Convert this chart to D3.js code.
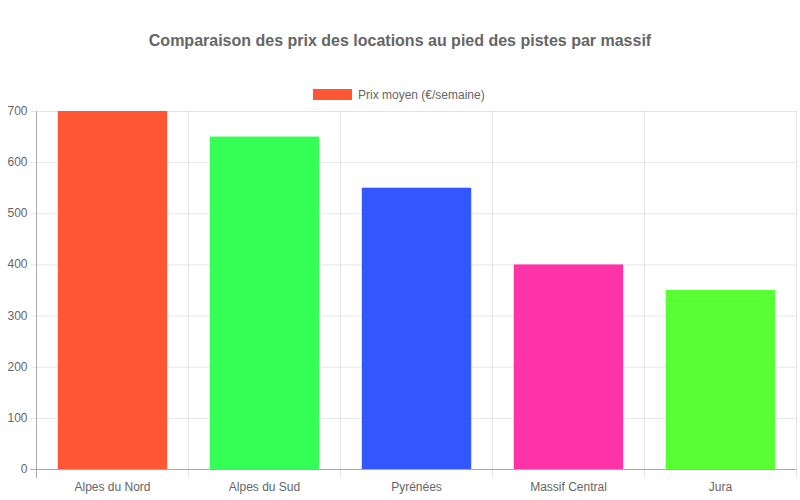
<!DOCTYPE html>
<html><head><meta charset="utf-8">
<script src="https://cdn.jsdelivr.net/npm/d3@7"></script>
<style>body{margin:0;background:#fff;font-family:"Liberation Sans",Arial,sans-serif;}</style>
</head><body><svg id="c" width="800" height="500"></svg>
<script>
const categories = ["Alpes du Nord","Alpes du Sud","Pyrénées","Massif Central","Jura"];
const values = [700,650,550,400,350];
const colors = ["#FF5733","#33FF57","#3357FF","#FF33A8","#57FF33"];
const yTicks = [0,100,200,300,400,500,600,700];
const title = "Comparaison des prix des locations au pied des pistes par massif";
const seriesName = "Prix moyen (€/semaine)";

const svg = d3.select("#c");
const m = {l:36.5, r:796.5, t:111, b:469};
const x = d3.scaleBand().domain(categories).range([m.l, m.r]).paddingInner(0).paddingOuter(0);
const y = d3.scaleLinear().domain([0,700]).range([m.b, m.t]);
const gridCol = "rgba(0,0,0,0.1)";
const axisCol = "#aaa";

svg.append("text").attr("x",400).attr("y",46).attr("text-anchor","middle")
  .attr("font-size",16).attr("font-weight","bold").attr("fill","#666").text(title);

// legend
svg.append("rect").attr("x",313).attr("y",89).attr("width",39).attr("height",11).attr("fill",colors[0]);
svg.append("text").attr("x",358).attr("y",99).attr("font-size",12).attr("fill","#666").text(seriesName);

// horizontal grid
const gy = svg.append("g");
yTicks.forEach(t=>{
  gy.append("line").attr("x1",m.l-6).attr("x2",m.r).attr("y1",y(t)+0.5).attr("y2",y(t)+0.5)
    .attr("stroke", t===0? axisCol : gridCol);
  gy.append("text").attr("x",m.l-9).attr("y",y(t)+4).attr("text-anchor","end")
    .attr("font-size",12).attr("fill","#666").text(t);
});
// vertical grid
const bounds = categories.map(c=>x(c)).concat([m.r]);
bounds.forEach((b,i)=>{
  svg.append("line").attr("x1",b).attr("x2",b).attr("y1",m.t).attr("y2",m.b+9)
    .attr("stroke", i===0? axisCol : gridCol);
});
// bars
const bw = x.bandwidth()*0.72;
svg.append("g").selectAll("rect").data(values).join("rect")
  .attr("x",(d,i)=>x(categories[i])+(x.bandwidth()-bw)/2)
  .attr("y",d=>y(d)).attr("width",bw).attr("height",d=>y(0)-y(d))
  .attr("fill",(d,i)=>colors[i]);
// x labels
categories.forEach(c=>{
  svg.append("text").attr("x",x(c)+x.bandwidth()/2).attr("y",491).attr("text-anchor","middle")
    .attr("font-size",12).attr("fill","#666").text(c);
});
</script></body></html>
